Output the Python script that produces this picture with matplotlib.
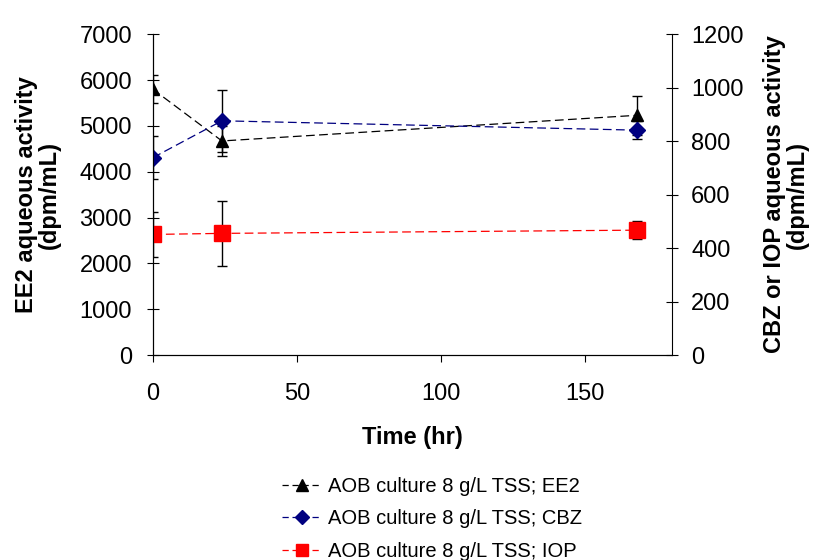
import matplotlib.pyplot as plt
from matplotlib.lines import Line2D

plt.rcParams['font.family'] = ['Liberation Sans', 'DejaVu Sans']

# Sampling times and measured aqueous activities
time_hr = [0, 24, 168]
ee2 = [5800, 4670, 5230]
ee2_err = [310, 330, 430]
cbz = [738, 876, 841]
cbz_err = [80, 117, 34]
iop = [451, 455, 467]
iop_err = [84, 122, 33]

labels = ["AOB culture 8 g/L TSS; EE2",
          "AOB culture 8 g/L TSS; CBZ",
          "AOB culture 8 g/L TSS; IOP"]

fig = plt.figure(figsize=(8.17, 5.6), dpi=100)
ax = fig.add_axes([0.187, 0.366, 0.635, 0.573])
ax2 = ax.twinx()

# EE2 on the left axis
ax.errorbar(time_hr, ee2, yerr=ee2_err, color='black', ls='--', lw=0.9,
            marker='^', ms=9, ecolor='black', elinewidth=1, capsize=3.5, dashes=(7, 3.5))

# CBZ and IOP on the right axis
ax2.errorbar(time_hr, cbz, yerr=cbz_err, color='#000080', ls='--', lw=0.9,
             marker='D', ms=8, ecolor='black', elinewidth=1, capsize=3.5, dashes=(7, 3.5))
ax2.errorbar(time_hr, iop, yerr=iop_err, color='#FF0000', ls='--', lw=0.9,
             marker='s', ms=11, ecolor='black', elinewidth=1, capsize=3.5, dashes=(7, 3.5))

ax.set_xlim(0, 180)
ax.set_xticks([0, 50, 100, 150])
ax.set_ylim(0, 7000)
ax.set_yticks(range(0, 7001, 1000))
ax2.set_ylim(0, 1200)
ax2.set_yticks(range(0, 1201, 200))

for a in (ax, ax2):
    a.spines['top'].set_visible(False)
ax.spines['right'].set_visible(False)

ax.tick_params(axis='y', direction='inout', length=8, labelsize=17, pad=11)
ax.tick_params(axis='x', direction='out', length=5, labelsize=17, pad=15)
ax2.tick_params(axis='y', direction='inout', length=8, labelsize=17, pad=10)

ax.set_xlabel("Time (hr)", fontsize=17, fontweight='bold', labelpad=15)
ax.set_ylabel("EE2 aqueous activity\n(dpm/mL)", fontsize=17, fontweight='bold', labelpad=13,
              linespacing=1.0)
ax2.set_ylabel("CBZ or IOP aqueous activity\n(dpm/mL)", fontsize=17, fontweight='bold',
               rotation=90, labelpad=14, linespacing=1.0)

handles = [
    Line2D([], [], color='black', ls='--', lw=0.9, marker='^', ms=8, dashes=(5, 3)),
    Line2D([], [], color='#000080', ls='--', lw=0.9, marker='D', ms=7, dashes=(5, 3)),
    Line2D([], [], color='#FF0000', ls='--', lw=0.9, marker='s', ms=9, dashes=(5, 3)),
]
fig.legend(handles, labels, loc='upper left', bbox_to_anchor=(0.345, 0.148),
           frameon=False, fontsize=14.5, handlelength=2.0, handletextpad=0.3,
           labelspacing=0.66, borderpad=0, borderaxespad=0)

fig.savefig("out.png", dpi=100)
